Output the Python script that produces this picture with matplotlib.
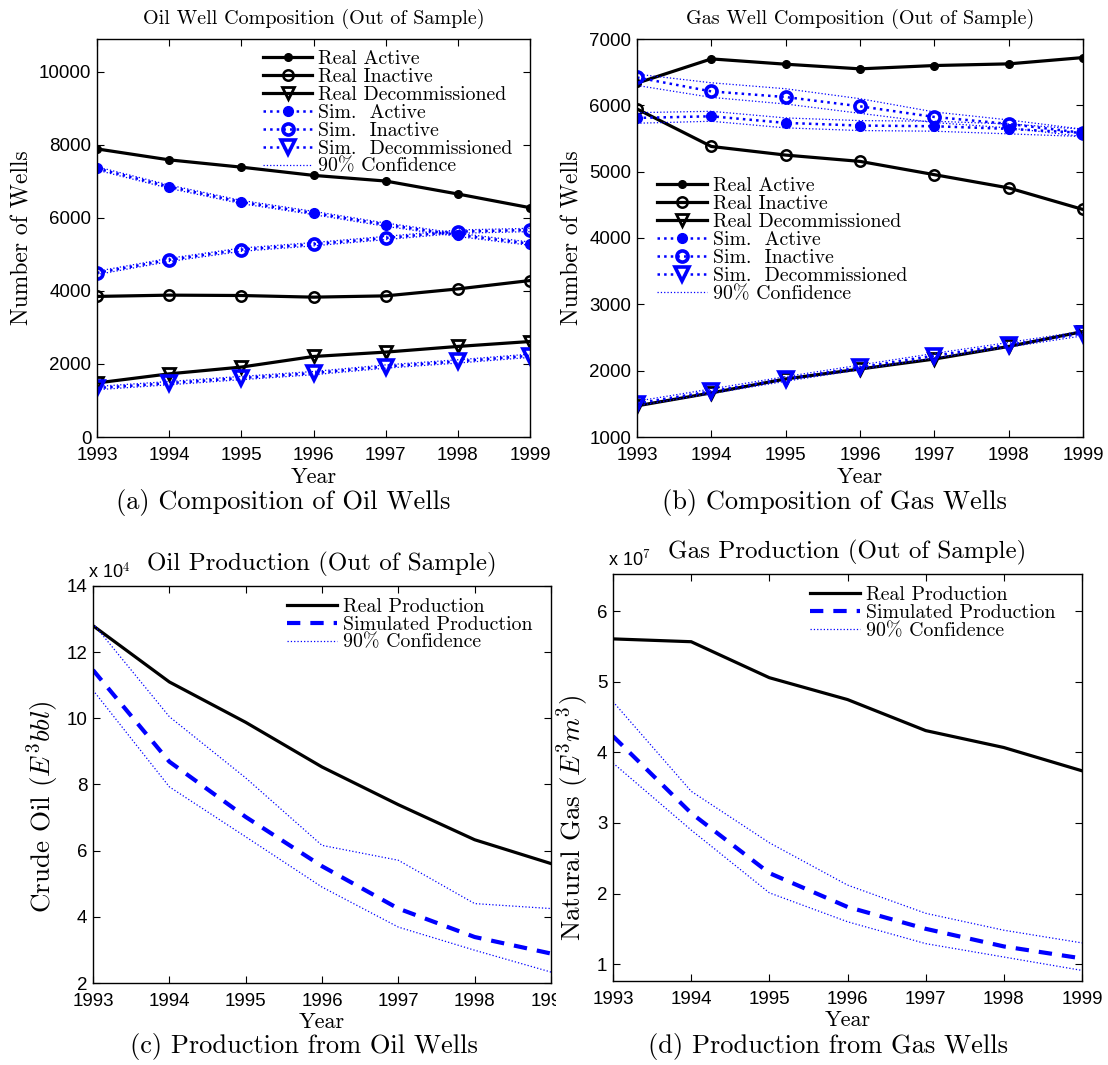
import matplotlib
matplotlib.use("Agg")
import matplotlib.pyplot as plt
from matplotlib.transforms import Bbox, TransformedBbox

plt.rcParams["mathtext.fontset"] = "cm"
plt.rcParams["axes.unicode_minus"] = False

SERIF = ["cmr10", "DejaVu Serif"]
SANS = ["Liberation Sans", "DejaVu Sans"]

FIG_W, FIG_H = 1108, 1065

years = [1993, 1994, 1995, 1996, 1997, 1998, 1999]

# oil well composition
oil_real_active = [7890, 7590, 7390, 7165, 7010, 6655, 6280]
oil_real_inactive = [3850, 3885, 3875, 3830, 3865, 4055, 4285]
oil_real_decomm = [1480, 1730, 1915, 2205, 2325, 2480, 2615]
oil_sim_active = [7355, 6855, 6435, 6135, 5815, 5535, 5295]
oil_sim_inactive = [4495, 4850, 5130, 5280, 5450, 5625, 5670]
oil_sim_decomm = [1340, 1475, 1615, 1750, 1930, 2070, 2225]
oil_conf_active = ([7400, 6900, 6480, 6180, 5860, 5580, 5340],
                   [7310, 6810, 6390, 6090, 5770, 5490, 5250])
oil_conf_inactive = ([4540, 4895, 5175, 5325, 5495, 5670, 5715],
                     [4450, 4805, 5085, 5235, 5405, 5580, 5625])
oil_conf_decomm = ([1385, 1520, 1660, 1795, 1975, 2115, 2270],
                   [1295, 1430, 1570, 1705, 1885, 2025, 2180])

# gas well composition
gas_real_active = [6335, 6700, 6620, 6550, 6600, 6625, 6720]
gas_real_inactive = [5945, 5380, 5250, 5155, 4955, 4755, 4430]
gas_real_decomm = [1470, 1665, 1875, 2025, 2175, 2365, 2590]
gas_sim_active = [5810, 5835, 5735, 5695, 5685, 5645, 5585]
gas_sim_inactive = [6420, 6210, 6125, 5985, 5825, 5720, 5585]
gas_sim_decomm = [1505, 1690, 1875, 2050, 2225, 2390, 2560]
gas_conf_active = ([5890, 5910, 5810, 5770, 5760, 5720, 5640],
                   [5730, 5760, 5660, 5620, 5610, 5570, 5530])
gas_conf_inactive = ([6470, 6340, 6250, 6100, 5900, 5780, 5640],
                     [6300, 6120, 6020, 5880, 5740, 5660, 5530])
gas_conf_decomm = ([1540, 1725, 1910, 2085, 2260, 2425, 2595],
                   [1470, 1655, 1840, 2015, 2190, 2355, 2525])

# production (oil in 1e4 E3bbl, gas in 1e7 E3m3)
oil_real_prod = [12.8, 11.1, 9.88, 8.53, 7.39, 6.33, 5.61]
oil_sim_prod = [11.46, 8.69, 7.02, 5.53, 4.25, 3.39, 2.89]
oil_conf_upper = [12.87, 10.05, 8.2, 6.16, 5.71, 4.4, 4.25]
oil_conf_lower = [10.85, 7.93, 6.42, 4.9, 3.69, 2.99, 2.33]

gas_real_prod = [5.61, 5.57, 5.06, 4.75, 4.31, 4.07, 3.74]
gas_sim_prod = [4.23, 3.14, 2.29, 1.81, 1.5, 1.25, 1.08]
gas_conf_upper = [4.72, 3.45, 2.72, 2.12, 1.72, 1.48, 1.3]
gas_conf_lower = [3.85, 2.9, 2.01, 1.6, 1.29, 1.1, 0.91]

BLUE = "#0000ff"


def add_axes_px(fig, left, top, right, bottom):
    """Place an axes using pixel edges measured from the top-left corner."""
    return fig.add_axes([left / FIG_W, 1 - bottom / FIG_H,
                         (right - left) / FIG_W, (bottom - top) / FIG_H])


def style_axes(ax):
    ax.tick_params(direction="in", length=5, width=0.8, top=True, right=True,
                   labelsize=13.5)
    ax.tick_params(axis="x", pad=7)
    ax.tick_params(axis="y", pad=4)
    for label in ax.get_xticklabels() + ax.get_yticklabels():
        label.set_family(SANS)
    for spine in ax.spines.values():
        spine.set_linewidth(1.0)


def draw_composition(ax, real, sim, confs, title, ylim, yticks, legend_anchor):
    real_active, real_inactive, real_decomm = real
    sim_active, sim_inactive, sim_decomm = sim

    ax.plot(years, real_active, color="black", lw=2.3, marker="o", ms=5.5,
            mfc="black", label="Real Active")
    ax.plot(years, real_inactive, color="black", lw=2.3, marker="o", ms=7.5,
            mfc="none", mew=1.8, label="Real Inactive")
    ax.plot(years, real_decomm, color="black", lw=2.3, marker="v", ms=9,
            mfc="none", mew=2.0, label="Real Decommissioned")
    ax.plot(years, sim_active, color=BLUE, lw=1.8, ls=":", marker="o", ms=7,
            mfc=BLUE, mec=BLUE, label="Sim.  Active")
    ax.plot(years, sim_inactive, color=BLUE, lw=1.8, ls=":", marker="o", ms=8,
            mfc="none", mec=BLUE, mew=2.6, label="Sim.  Inactive")
    ax.plot(years, sim_decomm, color=BLUE, lw=1.8, ls=":", marker="v", ms=10,
            mfc="none", mec=BLUE, mew=2.6, label="Sim.  Decommissioned")
    for i, (upper, lower) in enumerate(confs):
        ax.plot(years, upper, color=BLUE, lw=0.9, ls=":",
                label="90% Confidence" if i == 0 else None)
        ax.plot(years, lower, color=BLUE, lw=0.9, ls=":")

    ax.set_xlim(1993, 1999)
    ax.set_xticks(years)
    ax.set_ylim(*ylim)
    ax.set_yticks(yticks)
    ax.set_title(title, family=SERIF, fontsize=14.5, pad=11)
    ax.set_xlabel("Year", family=SERIF, fontsize=16, labelpad=2.5)
    ax.set_ylabel("Number of Wells", family=SERIF, fontsize=17, labelpad=4)
    ax.legend(loc="upper left", bbox_to_anchor=legend_anchor, frameon=False,
              prop={"family": SERIF, "size": 14.3}, handlelength=2.5,
              handletextpad=0.3, labelspacing=0.0, borderpad=0.0,
              borderaxespad=0.0)
    style_axes(ax)


def draw_production(ax, real, sim, upper, lower, title, ylabel, ylim, yticks,
                    exponent, legend_anchor, label_coords):
    ax.plot(years, real, color="black", lw=2.3, label="Real Production")
    ax.plot(years, sim, color=BLUE, lw=3.0, ls=(0, (3.2, 2.4)),
            label="Simulated Production")
    ax.plot(years, upper, color=BLUE, lw=0.9, ls=":", label="90% Confidence")
    ax.plot(years, lower, color=BLUE, lw=0.9, ls=":")

    ax.set_xlim(1993, 1999)
    ax.set_xticks(years)
    ax.set_ylim(*ylim)
    ax.set_yticks(yticks)
    ax.set_title(title, family=SERIF, fontsize=18, pad=11)
    ax.set_xlabel("Year", family=SERIF, fontsize=16, labelpad=2)
    ax.set_ylabel(ylabel, family=SERIF, fontsize=19.5)
    ax.yaxis.set_label_coords(*label_coords)
    ax.text(-0.01, 1.01, r"x 10$^{%d}$" % exponent, transform=ax.transAxes,
            ha="left", va="bottom", family=SANS, fontsize=13)
    ax.legend(loc="upper left", bbox_to_anchor=legend_anchor, frameon=False,
              prop={"family": SERIF, "size": 14.3}, handlelength=2.5,
              handletextpad=0.3, labelspacing=0.0, borderpad=0.0,
              borderaxespad=0.0)
    style_axes(ax)


fig = plt.figure(figsize=(FIG_W / 100, FIG_H / 100), dpi=100)

ax_a = add_axes_px(fig, 97, 39, 530, 437)
draw_composition(
    ax_a,
    (oil_real_active, oil_real_inactive, oil_real_decomm),
    (oil_sim_active, oil_sim_inactive, oil_sim_decomm),
    (oil_conf_active, oil_conf_inactive, oil_conf_decomm),
    "Oil Well Composition (Out of Sample)",
    (0, 10900), [0, 2000, 4000, 6000, 8000, 10000],
    (0.383, 0.972),
)

ax_b = add_axes_px(fig, 637, 39, 1083, 437)
draw_composition(
    ax_b,
    (gas_real_active, gas_real_inactive, gas_real_decomm),
    (gas_sim_active, gas_sim_inactive, gas_sim_decomm),
    (gas_conf_active, gas_conf_inactive, gas_conf_decomm),
    "Gas Well Composition (Out of Sample)",
    (1000, 7000), [1000, 2000, 3000, 4000, 5000, 6000, 7000],
    (0.045, 0.652),
)

ax_c = add_axes_px(fig, 93, 586, 551, 983)
draw_production(
    ax_c, oil_real_prod, oil_sim_prod, oil_conf_upper, oil_conf_lower,
    "Oil Production (Out of Sample)", r"Crude Oil ($E^3bbl$)",
    (2, 14), [2, 4, 6, 8, 10, 12, 14], 4, (0.424, 0.97), (-0.07, 0.443),
)

ax_d = add_axes_px(fig, 613, 574, 1082, 981)
draw_production(
    ax_d, gas_real_prod, gas_sim_prod, gas_conf_upper, gas_conf_lower,
    "Gas Production (Out of Sample)", r"Natural Gas ($E^3m^3$)",
    (0.76, 6.53), [1, 2, 3, 4, 5, 6], 7, (0.42, 0.97), (-0.046, 0.4),
)

# the oil production panel is cut at its right edge
clip = TransformedBbox(Bbox.from_extents(0, 0, 556 / FIG_W, 1), fig.transFigure)
for label in ax_c.get_xticklabels():
    label.set_clip_box(clip)
    label.set_clip_on(True)

captions = [
    (283, 503, "(a) Composition of Oil Wells"),
    (834, 503, "(b) Composition of Gas Wells"),
    (304, 1047, "(c) Production from Oil Wells"),
    (828, 1047, "(d) Production from Gas Wells"),
]
for x, y, text in captions:
    fig.text(x / FIG_W, 1 - y / FIG_H, text, ha="center", va="center",
             family=SERIF, fontsize=19)

fig.savefig("out.png", dpi=100)
